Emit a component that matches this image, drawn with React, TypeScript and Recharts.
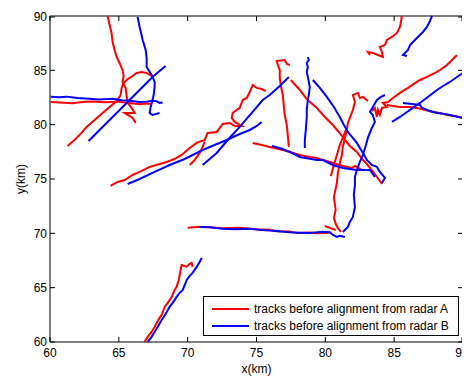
import React from 'react';
import { LineChart, Line, XAxis, YAxis, Legend, ReferenceArea } from 'recharts';

/* =======================
   Data (km)
======================= */
type Pt = [number, number];

const TICKS = [60, 65, 70, 75, 80, 85, 90];

// radar A tracks
const A1: Pt[] = [[64.18, 90.0], [64.33, 89.17], [64.47, 88.44], [64.55, 87.61], [64.69, 86.87], [64.84, 86.23], [65.05, 85.68], [65.27, 85.03], [65.35, 84.48], [65.27, 83.93], [65.49, 83.38], [65.56, 82.73], [65.64, 82.0], [65.93, 81.54], [66.15, 81.08], [65.42, 81.08], [66.0, 80.62], [66.22, 80.16]];
const A2: Pt[] = [[60.04, 82.09], [60.69, 82.05], [61.64, 81.98], [62.51, 82.1], [63.09, 82.14], [63.96, 82.06], [64.84, 82.12], [65.78, 82.0], [66.51, 81.88], [67.02, 81.95], [67.38, 81.9]];
const A3: Pt[] = [[61.27, 78.04], [61.78, 78.59], [62.29, 79.24], [62.66, 79.79], [63.24, 80.43], [63.82, 81.08], [64.33, 81.63], [64.84, 82.18], [65.13, 82.73], [65.2, 83.38], [65.35, 83.84], [65.64, 84.2], [66.0, 84.48], [66.29, 84.76], [66.65, 84.85], [67.02, 84.76], [67.38, 84.48]];
const A4: Pt[] = [[64.4, 74.36], [64.91, 74.73], [65.42, 74.91], [66.0, 75.37], [66.51, 75.65], [67.24, 76.11], [67.96, 76.38], [68.47, 76.57], [69.05, 76.84], [69.56, 77.21], [70.15, 77.86], [70.65, 78.32], [71.24, 78.59], [71.45, 79.24], [72.11, 79.33], [72.55, 80.06], [73.05, 80.16], [73.42, 79.88], [73.93, 79.88], [73.42, 80.25], [73.2, 80.62], [73.27, 81.08], [73.78, 81.54], [74.0, 82.27], [74.29, 82.46], [74.51, 83.01], [74.73, 83.65], [75.02, 83.38], [75.38, 83.28], [75.67, 83.1]];
const A5: Pt[] = [[70.15, 76.29], [70.51, 76.75], [70.87, 77.4], [71.09, 77.95], [71.24, 78.41]];
const A6: Pt[] = [[77.35, 77.95], [77.27, 79.05], [77.2, 79.97], [77.05, 80.89], [76.98, 81.81], [76.91, 82.73], [76.76, 83.65], [76.69, 84.3], [76.69, 85.03], [76.55, 85.49], [76.47, 85.86], [77.05, 85.95], [77.2, 85.58], [77.42, 85.49]];
const A7: Pt[] = [[77.49, 84.11], [78.15, 83.19], [78.65, 82.36], [79.38, 81.54], [79.96, 80.71], [80.55, 79.97], [81.27, 78.87], [81.78, 78.04], [82.29, 77.49], [82.73, 76.75], [83.02, 76.38], [83.6, 75.46], [84.11, 74.54]];
const A8: Pt[] = [[74.73, 78.32], [75.38, 78.13], [75.96, 77.95], [76.91, 77.67], [77.42, 77.49], [78.15, 77.21], [78.87, 77.03], [79.38, 76.94], [80.33, 76.57], [81.27, 76.2], [81.93, 76.02], [82.15, 76.2], [82.65, 75.83]];
const A9: Pt[] = [[83.09, 82.18], [82.73, 82.55], [82.51, 82.46], [82.36, 82.92], [82.0, 82.73], [82.15, 82.09], [82.0, 81.35], [81.78, 80.62], [81.64, 80.16], [81.56, 79.51], [81.42, 78.78], [81.27, 77.95], [81.2, 77.21], [81.05, 76.48], [80.91, 75.56], [80.84, 74.64], [80.62, 73.35], [80.75, 72.15], [80.62, 71.42], [80.76, 70.86], [80.91, 70.5], [81.13, 70.13]];
const A10: Pt[] = [[80.4, 75.28], [80.62, 76.29], [80.84, 77.21], [81.05, 78.13], [81.35, 79.05], [81.49, 79.51]];
const A11: Pt[] = [[79.96, 70.68], [80.33, 70.5], [80.76, 70.31]];
const A12: Pt[] = [[70.0, 70.52], [70.87, 70.6], [71.6, 70.55], [72.55, 70.46], [73.78, 70.52], [75.02, 70.38], [75.96, 70.33], [76.47, 70.2], [77.42, 70.16], [77.93, 70.02], [78.87, 70.08], [79.38, 70.0], [80.33, 70.06]];
const A13: Pt[] = [[66.87, 60.0], [67.09, 60.47], [67.38, 60.93], [67.6, 61.39], [67.75, 61.76], [67.96, 62.22], [68.11, 62.49], [68.33, 63.23], [68.55, 63.6], [68.84, 64.15], [69.05, 64.79], [69.2, 65.07], [69.35, 65.71], [69.42, 66.17], [69.49, 66.63], [69.56, 67.09], [69.78, 67.0], [69.93, 66.91], [70.15, 67.19], [70.29, 67.28], [70.36, 66.91]];
const A14: Pt[] = [[85.56, 90.0], [85.49, 89.45], [85.42, 88.99], [85.2, 88.44], [84.84, 88.07], [84.47, 87.79], [84.33, 87.33], [83.96, 87.15], [84.11, 86.69], [84.18, 86.23], [83.82, 86.41], [83.45, 86.6], [83.09, 86.69], [83.24, 86.41]];
const A15: Pt[] = [[89.56, 86.41], [89.2, 85.95], [88.84, 85.49], [88.33, 85.03], [88.11, 84.85], [87.38, 84.39], [86.87, 84.11], [86.65, 83.93], [86.0, 83.38], [85.42, 82.92], [84.91, 82.46], [84.55, 82.09], [84.18, 82.0], [84.47, 81.63], [84.11, 81.54], [83.96, 80.89], [83.82, 81.35], [83.75, 80.71], [83.6, 81.54], [83.38, 81.26]];
const A16: Pt[] = [[84.47, 81.81], [85.42, 81.63], [86.15, 81.63], [86.65, 81.54], [87.24, 81.35], [87.82, 81.17], [88.33, 81.08], [88.84, 80.89], [89.42, 80.8], [90.0, 80.62]];

// radar B tracks
const B1: Pt[] = [[60.04, 82.56], [60.69, 82.52], [61.2, 82.58], [62.0, 82.45], [62.87, 82.38], [63.6, 82.32], [64.55, 82.38], [65.2, 82.25], [65.78, 82.2], [66.51, 82.08], [67.02, 82.12], [67.45, 82.2], [67.75, 82.15], [67.96, 82.0], [68.18, 82.04]];
const B2: Pt[] = [[66.36, 89.91], [66.44, 89.45], [66.51, 88.99], [66.65, 88.25], [66.73, 87.79], [66.95, 86.87], [67.02, 86.14], [67.02, 85.31], [67.38, 84.57], [67.45, 84.39], [67.6, 83.93], [67.6, 83.47], [67.53, 82.73], [67.45, 82.27], [67.31, 81.63], [67.24, 81.08], [67.45, 80.89], [67.96, 81.08]];
const B3: Pt[] = [[62.8, 78.5], [63.6, 79.51], [64.11, 80.16], [64.91, 81.17], [65.78, 82.27], [66.65, 83.38], [67.45, 84.39], [67.96, 84.94], [68.4, 85.4]];
const B4: Pt[] = [[65.64, 74.54], [66.51, 75.0], [67.6, 75.65], [68.69, 76.29], [69.78, 76.84], [71.09, 77.67], [71.96, 78.13], [72.84, 78.59], [73.78, 79.14], [74.51, 79.51], [75.02, 79.88], [75.38, 80.25]];
const B5: Pt[] = [[71.09, 76.29], [71.6, 76.84], [72.11, 77.4], [72.91, 78.59], [73.78, 79.79], [74.66, 81.08], [75.45, 82.27], [75.96, 82.73], [76.69, 83.56], [77.35, 84.39]];
const B6: Pt[] = [[78.73, 86.23], [78.8, 85.95], [78.65, 85.68], [78.73, 85.31], [78.65, 84.85], [78.73, 84.39], [78.87, 83.47], [78.8, 82.73], [78.73, 82.27], [78.65, 81.35], [78.65, 80.71], [78.58, 79.51], [78.51, 78.59], [78.51, 77.86]];
const B7: Pt[] = [[79.09, 84.11], [79.6, 83.38], [80.11, 82.55], [80.62, 81.63], [81.05, 80.71], [81.35, 79.97], [81.64, 79.33], [82.29, 78.32], [82.73, 77.4], [83.02, 76.75], [83.38, 76.29], [83.75, 76.11], [83.96, 75.65], [84.33, 75.1], [84.11, 74.64]];
const B8: Pt[] = [[76.11, 78.04], [76.91, 77.76], [77.42, 77.49], [78.15, 77.03], [79.38, 76.75], [79.82, 76.75], [80.55, 76.29], [81.27, 76.02], [82.29, 75.83], [83.24, 75.83], [83.6, 75.19]];
const B9: Pt[] = [[81.27, 70.13], [81.64, 70.59], [81.78, 71.05], [82.0, 71.51], [82.15, 72.43], [82.07, 73.53], [82.15, 74.45], [82.15, 75.19], [82.29, 75.83], [82.51, 76.57], [82.73, 77.21], [82.95, 78.13], [83.09, 78.78], [83.38, 79.7], [83.6, 80.25], [83.45, 80.89], [83.24, 81.17], [83.45, 81.63], [83.75, 82.27], [84.04, 82.55], [84.33, 82.73]];
const B10: Pt[] = [[70.87, 70.59], [71.6, 70.57], [72.55, 70.42], [73.42, 70.38], [74.51, 70.42], [75.38, 70.3], [76.18, 70.24], [77.42, 70.11], [78.15, 70.06], [78.87, 70.02], [79.82, 70.14], [80.33, 70.1], [80.55, 69.85], [80.84, 69.67], [81.05, 69.78], [81.42, 69.67]];
const B11: Pt[] = [[67.09, 60.0], [67.38, 60.47], [67.6, 60.93], [67.82, 61.39], [68.11, 62.03], [68.4, 62.58], [68.69, 63.23], [68.91, 63.6], [69.2, 64.15], [69.42, 64.52], [69.64, 64.79], [69.85, 65.44], [69.93, 65.71], [70.15, 66.08], [70.36, 66.36], [70.65, 66.91], [70.87, 67.37], [71.02, 67.74]];
const B12: Pt[] = [[87.75, 90.0], [87.6, 89.54], [87.38, 88.99], [87.09, 88.53], [86.87, 88.25], [86.58, 87.88], [86.36, 87.61], [86.15, 87.33], [86.0, 86.87], [85.78, 86.6], [85.64, 86.41], [85.93, 86.32]];
const B13: Pt[] = [[90.0, 84.76], [89.56, 84.39], [89.05, 83.93], [88.55, 83.56], [88.11, 83.19], [87.45, 82.55], [86.87, 82.0], [86.36, 81.54], [85.93, 81.17], [85.42, 80.71], [84.84, 80.25]];
const B14: Pt[] = [[85.64, 82.0], [86.29, 81.9], [86.87, 81.81], [87.02, 81.54], [87.6, 81.26], [88.11, 81.08], [88.69, 80.98], [89.05, 80.89], [89.64, 80.71], [90.0, 80.62]];

const RADAR_A = [A1, A2, A3, A4, A5, A6, A7, A8, A9, A10, A11, A12, A13, A14, A15, A16];
const RADAR_B = [B1, B2, B3, B4, B5, B6, B7, B8, B9, B10, B11, B12, B13, B14];

/* =======================
   Colors / layout
======================= */
const RED = '#ff0000';
const BLUE = '#0000ff';

const LEGEND_ITEMS = [
  { label: 'tracks before alignment from radar A', color: RED },
  { label: 'tracks before alignment from radar B', color: BLUE },
];

const FONT = '"Liberation Sans", Arial, sans-serif';
const X_TICK_MARGIN = 6;
const Y_TICK_MARGIN = 3;
const TICK_LEN = 5;
const PLOT_W = 413;
const PLOT_H = 326;

const toPoints = (track: Pt[]) => track.map(([x, y]) => ({ x, y }));

/* ---------- inward ticks (bottom + top) with label ---------- */
const BottomTick = (props: any) => {
  const { x, y, payload } = props;
  const axisY = y - X_TICK_MARGIN;
  const topY = axisY - PLOT_H;
  return (
    <g>
      <line x1={x} x2={x} y1={axisY} y2={axisY - TICK_LEN} stroke="#000" />
      <line x1={x} x2={x} y1={topY} y2={topY + TICK_LEN} stroke="#000" />
      <text x={x} y={y} dy="0.71em" textAnchor="middle" fill="#000" fontSize={12} fontFamily={FONT}>
        {payload.value}
      </text>
    </g>
  );
};

/* ---------- inward ticks (left + right) with label ---------- */
const LeftTick = (props: any) => {
  const { x, y, payload } = props;
  const axisX = x + Y_TICK_MARGIN;
  const rightX = axisX + PLOT_W;
  return (
    <g>
      <line x1={axisX} x2={axisX + TICK_LEN} y1={y} y2={y} stroke="#000" />
      <line x1={rightX} x2={rightX - TICK_LEN} y1={y} y2={y} stroke="#000" />
      <text x={x} y={y} dy="0.355em" textAnchor="end" fill="#000" fontSize={12} fontFamily={FONT}>
        {payload.value}
      </text>
    </g>
  );
};

const LegendBox = () => (
  <div
    style={{
      width: 254,
      height: 38,
      border: '1px solid #000',
      background: '#fff',
      fontFamily: FONT,
      fontSize: 12,
      color: '#000',
      boxSizing: 'content-box',
    }}
  >
    {LEGEND_ITEMS.map((item, i) => (
      <div
        key={i}
        style={{ display: 'flex', alignItems: 'center', height: 17, marginTop: i === 0 ? 3 : 0 }}
      >
        <span
          style={{
            display: 'inline-block',
            width: 37,
            height: 2,
            marginLeft: 8,
            marginRight: 5,
            background: item.color,
          }}
        />
        <span>{item.label}</span>
      </div>
    ))}
  </div>
);

/* =======================
   Component
======================= */
export default function App() {
  return (
    <LineChart
      width={462}
      height={368}
      margin={{ top: 8, right: 7, bottom: 0, left: 0 }}
      style={{ fontFamily: FONT }}
    >
      <XAxis
        xAxisId="x"
        type="number"
        dataKey="x"
        domain={[60, 90]}
        ticks={TICKS}
        height={34}
        axisLine={false}
        tickLine={false}
        tickSize={0}
        tickMargin={X_TICK_MARGIN}
        tick={<BottomTick />}
        label={{ value: 'x(km)', position: 'insideBottom', offset: 3, fill: '#000', fontSize: 12 }}
      />
      <YAxis
        yAxisId="y"
        type="number"
        dataKey="y"
        domain={[60, 90]}
        ticks={TICKS}
        width={42}
        axisLine={false}
        tickLine={false}
        tickSize={0}
        tickMargin={Y_TICK_MARGIN}
        tick={<LeftTick />}
        label={{ value: 'y(km)', angle: -90, position: 'insideLeft', offset: 13, fill: '#000', fontSize: 12, style: { textAnchor: 'middle' } }}
      />

      {/* axes box */}
      <ReferenceArea
        xAxisId="x"
        yAxisId="y"
        x1={60}
        x2={90}
        y1={60}
        y2={90}
        fill="none"
        stroke="#000"
        strokeWidth={1}
        ifOverflow="visible"
      />

      {RADAR_A.map((track, i) => (
        <Line
          key={'a' + i}
          xAxisId="x"
          yAxisId="y"
          data={toPoints(track)}
          dataKey="y"
          stroke={RED}
          strokeWidth={2}
          dot={false}
          legendType="none"
          isAnimationActive={false}
        />
      ))}
      {RADAR_B.map((track, i) => (
        <Line
          key={'b' + i}
          xAxisId="x"
          yAxisId="y"
          data={toPoints(track)}
          dataKey="y"
          stroke={BLUE}
          strokeWidth={2}
          dot={false}
          legendType="none"
          isAnimationActive={false}
        />
      ))}

      <Legend
        layout="vertical"
        align="center"
        verticalAlign="middle"
        content={() => <LegendBox />}
        wrapperStyle={{ position: 'absolute', left: 195, top: 288, width: 256, height: 40 }}
      />
    </LineChart>
  );
}
